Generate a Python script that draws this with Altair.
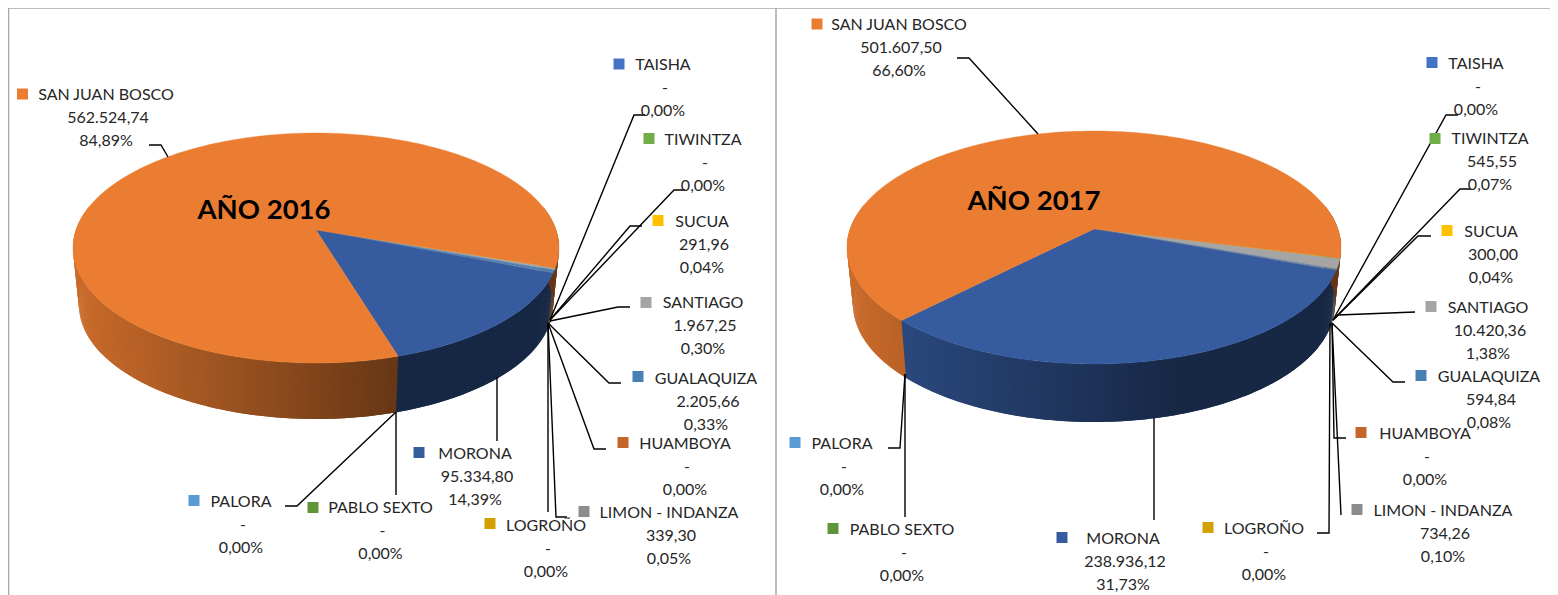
import math
import altair as alt

# ---------- data ----------
categories = ["TAISHA", "TIWINTZA", "SUCUA", "SANTIAGO", "GUALAQUIZA", "HUAMBOYA",
              "LIMON - INDANZA", "LOGROÑO", "MORONA", "PABLO SEXTO", "PALORA", "SAN JUAN BOSCO"]
values_2016 = [0, 0, 291.96, 1967.25, 2205.66, 0, 339.30, 0, 95334.80, 0, 0, 562524.74]
values_2017 = [0, 545.55, 300.00, 10420.36, 594.84, 0, 734.26, 0, 238936.12, 0, 0, 501607.50]
colors = ["#4472C4", "#70AD47", "#FFC000", "#A5A5A5", "#4A7FB5", "#C4652A",
          "#8C8C8C", "#D2A000", "#365C9F", "#5E9637", "#5B9BD5", "#EB7D32"]

# ---------- layout (pixel positions on the page) ----------
OFFSET = 8
TEXT_NUDGE = 1
PANELS = [
    dict(title="AÑO 2016", title_pos=(264, 211), values=values_2016, start=18.7,
         top=(316, 248, 243, 115), bottom=(316, 305, 237, 114), c=0.157),
    dict(title="AÑO 2017", title_pos=(1034, 202), values=values_2017, start=14.2,
         top=(1094, 247.5, 247, 116.5), bottom=(1094, 304, 241, 118), c=0.159),
]
# name centre x, name centre y, swatch x, swatch y
label_pos_2016 = [(663, 64, 619, 63.5), (703, 139, 649, 138), (702, 221, 658, 220), (703, 302, 646, 302),
                  (706, 378, 638, 376), (685, 443, 623, 442), (669, 512, 584, 511), (546, 525, 490, 523),
                  (475, 453, 419, 452), (380.5, 507, 313, 507), (241, 501, 194, 500), (106, 94, 22.5, 93.5)]
label_pos_2017 = [(1476, 63, 1432, 62), (1490, 138, 1435, 138), (1491, 231, 1447, 230), (1488, 307, 1431, 306),
                  (1489, 376, 1421, 375), (1425, 433, 1361, 432), (1443, 510, 1357, 509), (1264, 528, 1208, 527),
                  (1123, 538, 1062, 537), (902, 529, 833, 528), (842, 443, 795, 442), (899, 24, 817, 23.5)]
leaders_2016 = [[(645, 115), (634, 115), (550, 320)], [(685, 190), (674, 190), (550, 320)],
                [(642, 226), (630, 226), (550, 320)], [(630, 307), (618, 307), (550, 321)],
                [(621, 383), (609, 383), (548, 323)], [(606, 449), (594, 449), (548, 323)],
                [(567, 517), (556, 517), (548, 323)], [(548, 512), (548, 323)],
                [(497, 441), (497, 377)], [(396, 495), (396, 412)],
                [(285, 506), (297, 506), (396, 412)], [(149, 145), (161, 145), (168, 157)]]
leaders_2017 = [[(1458, 115), (1446, 115), (1333, 320)], [(1471, 189), (1460, 189), (1333, 320)],
                [(1431, 236), (1418, 236), (1333, 320)], [(1415, 312), (1338, 315), (1333, 320)],
                [(1405, 382), (1393, 382), (1332, 323)], [(1346, 438), (1334, 438), (1332, 323)],
                [(1341, 515), (1332, 323)], [(1317, 533), (1329, 533), (1330, 323)],
                [(1154, 520), (1154, 418)], [(905, 517), (905, 374)],
                [(888, 448), (900, 448), (905, 374)], [(957, 58), (969, 58), (1038, 134)]]
frame_lines = [[(8, 8), (1550, 8)], [(776, 8), (776, 595)], [(8.5, 8), (8.5, 595)]]


def es_number(v):
    if not v:
        return "-"
    return f"{v:,.2f}".replace(",", "#").replace(".", ",").replace("#", ".")


def project(theta_deg, ellipse, c):
    """Perspective view of a disc: clockwise angle from east to a page position."""
    cx, cy, a, b = ellipse
    t = math.radians(theta_deg)
    u, v = math.cos(t), -math.sin(t)
    d = 1 + c * v
    return [cx + a * u * math.sqrt(1 - c * c) / d, cy - b * (v + c) / d]


def shade(hex_color, x, panel):
    cx, _, a, _ = panel["top"]
    t = (x - (cx - a)) / (2 * a)
    s = max(0.44, 0.86 - 0.63 * t)
    rgb = [int(hex_color[i:i + 2], 16) for i in (1, 3, 5)]
    return "#%02x%02x%02x" % tuple(int(k * s) for k in rgb)


def feature(ring, color):
    return {"type": "Feature", "properties": {"color": color},
            "geometry": {"type": "Polygon", "coordinates": [ring + [ring[0]]]}}


def pie_features(panel):
    total = sum(panel["values"])
    walls, faces = [], []
    angle = panel["start"]
    top, bottom, c = panel["top"], panel["bottom"], panel["c"]
    step = 0.5
    for val, col in zip(panel["values"], colors):
        sweep = val / total * 360
        if sweep <= 0:
            continue
        end = angle + sweep
        # side wall: only the front of the disc is ever visible; strips overlap to hide seams
        for lo, hi in ((angle, end), (angle - 360, end - 360)):
            s, e = max(lo, -12), min(hi, 192)
            th = s
            while th < e:
                nx = min(th + 2 * step, e + step)
                p1, p2 = project(th, top, c), project(nx, top, c)
                p3, p4 = project(nx, bottom, c), project(th, bottom, c)
                walls.append(feature([p1, p2, p3, p4], shade(col, (p1[0] + p2[0]) / 2, panel)))
                th += step
        # top face
        steps = max(2, int(sweep))
        ring = [[top[0], top[1] - top[3] * c]]
        ring += [project(angle + sweep * k / steps, top, c) for k in range(steps + 1)]
        faces.append(feature(ring, col))
        angle = end
    return walls, faces


wall_features, face_features = [], []
for p in PANELS:
    w, f = pie_features(p)
    wall_features += w
    face_features += f

text_rows, swatch_rows = [], []
for panel, positions in zip(PANELS, (label_pos_2016, label_pos_2017)):
    total = sum(panel["values"])
    for name, val, col, (nx, ny, sx, sy) in zip(categories, panel["values"], colors, positions):
        pct = f"{val / total * 100:.2f}%".replace(".", ",")
        ty = ny + TEXT_NUDGE
        text_rows += [dict(x=nx, y=ty, t=name), dict(x=nx + 2, y=ty + 23, t=es_number(val)),
                      dict(x=nx, y=ty + 46, t=pct)]
        swatch_rows.append(dict(x=sx, y=sy + 0.5, color=col))

leader_rows = []
for i, path in enumerate(leaders_2016 + leaders_2017):
    for j, (x, y) in enumerate(path):
        leader_rows.append(dict(id=i, o=j, x=x, y=y))
frame_rows = []
for i, path in enumerate(frame_lines):
    for j, (x, y) in enumerate(path):
        frame_rows.append(dict(id=i, o=j, x=x, y=y))
title_rows = [dict(x=p["title_pos"][0], y=p["title_pos"][1], t=p["title"]) for p in PANELS]

W, H = 1542, 587
X = alt.X("x:Q", axis=None, scale=alt.Scale(domain=[8, 1550], nice=False, zero=False))
Y = alt.Y("y:Q", axis=None, scale=alt.Scale(domain=[595, 8], nice=False, zero=False))
FONT = "Lato"
PROJ = dict(type="identity", scale=1, translate=[-OFFSET, -OFFSET])

walls = alt.Chart(alt.Data(values=wall_features)).mark_geoshape(strokeWidth=0).encode(
    fill=alt.Fill("properties.color:N", scale=None),
).project(**PROJ)
faces = alt.Chart(alt.Data(values=face_features)).mark_geoshape(strokeWidth=0.4).encode(
    fill=alt.Fill("properties.color:N", scale=None),
    stroke=alt.Stroke("properties.color:N", scale=None),
).project(**PROJ)

frame = alt.Chart(alt.Data(values=frame_rows)).mark_line(color="#A6A6A6", strokeWidth=1.5).encode(
    x=X, y=Y, detail="id:N", order="o:Q")
leaders = alt.Chart(alt.Data(values=leader_rows)).mark_line(color="#000000", strokeWidth=1.4).encode(
    x=X, y=Y, detail="id:N", order="o:Q")
swatches = alt.Chart(alt.Data(values=swatch_rows)).mark_square(size=121, opacity=1, filled=True).encode(
    x=X, y=Y, fill=alt.Fill("color:N", scale=None))
labels = alt.Chart(alt.Data(values=text_rows)).mark_text(
    font=FONT, fontSize=16, color="#262626", align="center", baseline="middle").encode(x=X, y=Y, text="t:N")
titles = alt.Chart(alt.Data(values=title_rows)).mark_text(
    font=FONT, fontSize=27.5, fontWeight="bold", color="#000000", align="center", baseline="middle").encode(
    x=X, y=Y, text="t:N")

chart = alt.layer(frame, walls, faces, leaders, swatches, labels, titles).properties(
    width=W, height=H, padding=0, background="white",
    autosize=alt.AutoSizeParams(type="none"),
).configure_view(stroke=None)

chart.save("out.html", embed_options={"renderer": "svg", "actions": False})
